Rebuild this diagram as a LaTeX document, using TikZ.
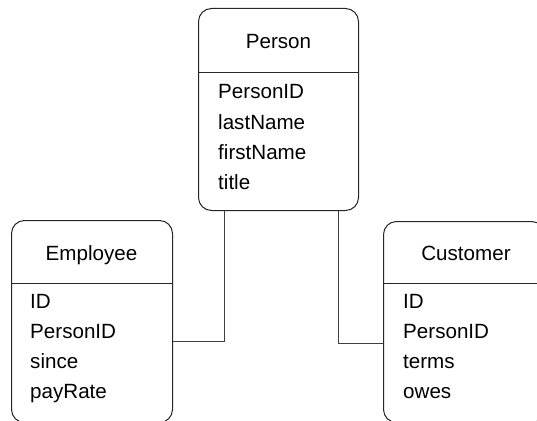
\documentclass[tikz,border=0pt]{standalone}
\usepackage{fontspec}
\setmainfont{Liberation Sans}
\begin{document}
\begin{tikzpicture}[x=1pt,y=1pt,
  entity/.style={draw=black!85,line width=1pt,rounded corners=13pt,fill=white,anchor=north west,inner sep=0pt},
  divider/.style={draw=black!85,line width=1pt},
  conn/.style={draw=black!75,line width=1pt},
  lbl/.style={anchor=base,inner sep=0pt,font=\fontsize{20.6}{24}\selectfont},
  attr/.style={anchor=base west,inner sep=0pt,font=\fontsize{20.6}{24}\selectfont}]
\useasboundingbox (0,0) rectangle (537,-420);
\clip (0,0) rectangle (537,-420);
% boxes
\node[entity,minimum width=160pt,minimum height=202pt] (person) at (198,-8) {};
\node[entity,minimum width=161pt,minimum height=202pt] (employee) at (11,-220) {};
\node[entity,minimum width=161pt,minimum height=201pt] (customer) at (383,-221) {};
% dividers
\draw[divider] (person.west |- 0,-72.5) -- (person.east |- 0,-72.5);
\draw[divider] (employee.west |- 0,-283.5) -- (employee.east |- 0,-283.5);
\draw[divider] (customer.west |- 0,-283.5) -- (customer.east |- 0,-283.5);
% Person
\node[lbl] (pt) at (278.5,-48.5) {Person};
\node[attr] (p1) at (218,-98.5) {PersonID};
\node[attr] (p2) at (218,-129) {lastName};
\node[attr] (p3) at (218,-159.3) {firstName};
\node[attr] (p4) at (218,-189) {title};
% Employee
\node[lbl] (et) at (91.5,-260) {Employee};
\node[attr] (e1) at (30,-308) {ID};
\node[attr] (e2) at (30,-338.5) {PersonID};
\node[attr] (e3) at (30,-368.5) {since};
\node[attr] (e4) at (30,-398.5) {payRate};
% Customer
\node[lbl] (ct) at (466,-260) {Customer};
\node[attr] (c1) at (403,-308) {ID};
\node[attr] (c2) at (403,-338.5) {PersonID};
\node[attr] (c3) at (403,-368.5) {terms};
\node[attr] (c4) at (403,-398.5) {owes};
% connectors
\draw[conn] ([xshift=26pt]person.south west) |- ([yshift=-20pt]employee.east);
\draw[conn] ([xshift=-21pt]person.south east) |- ([yshift=-21.5pt]customer.west);
\end{tikzpicture}
\end{document}
